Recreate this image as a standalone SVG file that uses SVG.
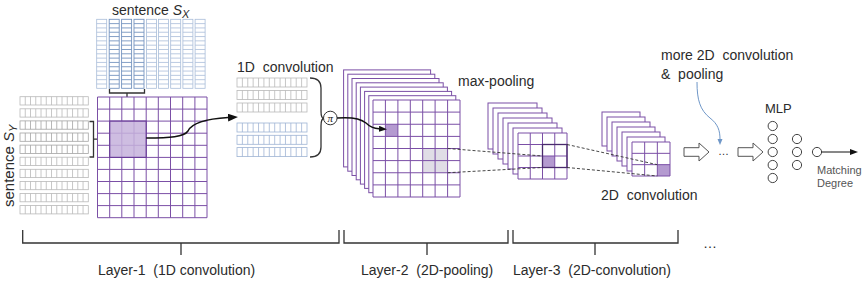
<svg xmlns="http://www.w3.org/2000/svg" xmlns:xlink="http://www.w3.org/1999/xlink" width="865" height="281" viewBox="0 0 865 281">
<style>
.t{font-family:"Liberation Sans",Arial,sans-serif;font-size:14px;fill:#2b2b2b}
.s11{font-size:11px}
.s13{font-size:13px}
.gray{fill:#555}
.grid{fill:none;stroke:#7b4fa6;stroke-width:1}
.frame{fill:#fff;stroke:#7b4fa6;stroke-width:1}
.hl{fill:#c6b1dc;fill-opacity:0.85;stroke:#6a3d99;stroke-width:1.2}
.br{fill:none;stroke:#333;stroke-width:1.3}
.dash{fill:none;stroke:#333;stroke-width:0.9;stroke-dasharray:3 2}
.colx{fill:#fff;stroke:#a9bdd9;stroke-width:0.8}
.colsel{fill:#fff;stroke:#7594c0;stroke-width:0.9}
.rowg{fill:#fff;stroke:#b9b9b9;stroke-width:0.8}
.rowgd{fill:#fff;stroke:#a4a4a4;stroke-width:0.8}
.rowb{fill:#fff;stroke:#9fb4d4;stroke-width:0.8}
.neuron{fill:#fff;stroke:#444;stroke-width:1}
.harrow{fill:#fff;stroke:#555;stroke-width:1}
</style>
<defs>
<g id="colX"><rect width="10" height="69"/><path d="M0,4.31h10M0,8.63h10M0,12.94h10M0,17.25h10M0,21.56h10M0,25.88h10M0,30.19h10M0,34.5h10M0,38.81h10M0,43.13h10M0,47.44h10M0,51.75h10M0,56.06h10M0,60.38h10M0,64.69h10"/></g>
<g id="rowY"><rect width="68.3" height="8.3"/><path d="M5.25,0v8.3M10.51,0v8.3M15.76,0v8.3M21.02,0v8.3M26.27,0v8.3M31.52,0v8.3M36.78,0v8.3M42.03,0v8.3M47.28,0v8.3M52.54,0v8.3M57.79,0v8.3M63.05,0v8.3"/></g>
<g id="row1D"><rect width="70" height="9"/><path d="M5.38,0v9M10.77,0v9M16.15,0v9M21.54,0v9M26.92,0v9M32.31,0v9M37.69,0v9M43.08,0v9M48.46,0v9M53.85,0v9M59.23,0v9M64.62,0v9"/></g>
<marker id="ah" markerUnits="userSpaceOnUse" markerWidth="10" markerHeight="8" refX="0" refY="4" orient="auto"><path d="M0,0L10,4L0,8z" fill="#111"/></marker>
<marker id="ahs" markerUnits="userSpaceOnUse" markerWidth="8" markerHeight="6" refX="0" refY="3" orient="auto"><path d="M0,0L8,3L0,6z" fill="#111"/></marker>
<marker id="ahb" markerUnits="userSpaceOnUse" markerWidth="6" markerHeight="6" refX="0" refY="3" orient="auto"><path d="M0,0.5L6,3L0,5.5z" fill="#6f97c8"/></marker>
</defs>

<g id="sentence-x">
<text class="t" x="112" y="15">sentence <tspan font-style="italic">S</tspan><tspan class="s11" dy="3" font-style="italic">X</tspan></text>
<use href="#colX" class="colx" x="96.7" y="19.3"/>
<use href="#colX" class="colsel" x="109.2" y="19.3"/>
<use href="#colX" class="colsel" x="121.6" y="19.3"/>
<use href="#colX" class="colsel" x="134" y="19.3"/>
<use href="#colX" class="colx" x="146.5" y="19.3"/>
<use href="#colX" class="colx" x="158.5" y="19.3"/>
<use href="#colX" class="colx" x="170.7" y="19.3"/>
<use href="#colX" class="colx" x="182.9" y="19.3"/>
<use href="#colX" class="colx" x="195.1" y="19.3"/>
<path class="br" d="M109.5,89V93H144.5V89M127,93V97.5"/>
</g>

<g id="sentence-y">
<text class="t" transform="translate(14,207) rotate(-90)" style="font-size:15px">sentence <tspan font-style="italic">S</tspan><tspan class="s11" dy="3" font-style="italic">Y</tspan></text>
<use href="#rowY" class="rowg" x="20" y="96.7"/>
<use href="#rowY" class="rowg" x="20" y="108.8"/>
<use href="#rowY" class="rowgd" x="20" y="120.9"/>
<use href="#rowY" class="rowgd" x="20" y="133"/>
<use href="#rowY" class="rowgd" x="20" y="145.1"/>
<use href="#rowY" class="rowg" x="20" y="157.2"/>
<use href="#rowY" class="rowg" x="20" y="169.3"/>
<use href="#rowY" class="rowg" x="20" y="181.4"/>
<use href="#rowY" class="rowg" x="20" y="193.5"/>
<use href="#rowY" class="rowg" x="20" y="205.6"/>
<path class="br" d="M89.5,121.5H93.5V157H89.5M93.5,139.2H97.5"/>
</g>

<g id="layer1-grid">
<rect x="97.5" y="97" width="109.5" height="120.7" fill="#fff"/>
<path class="grid" d="M97.5,97V217.7M109.7,97V217.7M121.8,97V217.7M134,97V217.7M146.2,97V217.7M158.3,97V217.7M170.5,97V217.7M182.7,97V217.7M194.9,97V217.7M207,97V217.7M97.5,97H207M97.5,109.1H207M97.5,121.1H207M97.5,133.2H207M97.5,145.3H207M97.5,157.4H207M97.5,169.4H207M97.5,181.5H207M97.5,193.6H207M97.5,205.6H207M97.5,217.7H207"/>
<rect class="hl" x="109.7" y="121.1" width="36.5" height="36.3"/>
</g>

<g id="conv1d">
<text class="t" x="237" y="72" xml:space="preserve">1D  convolution</text>
<use href="#row1D" class="rowg" x="237" y="78"/>
<use href="#row1D" class="rowg" x="237" y="90.5"/>
<use href="#row1D" class="rowg" x="237" y="103"/>
<use href="#row1D" class="rowb" x="237" y="123"/>
<use href="#row1D" class="rowb" x="237" y="135.3"/>
<use href="#row1D" class="rowb" x="237" y="147.6"/>
<path class="br" d="M310,78Q321,78 321,88V111Q321,118.5 324,118.5Q321,118.5 321,126V147Q321,157 310,157"/>
</g>

<g id="pool-op">
<circle cx="330.3" cy="118" r="6.8" fill="#fff" stroke="#333" stroke-width="1"/>
<text x="330.3" y="121.5" text-anchor="middle" font-family="'Liberation Serif',serif" font-style="italic" font-size="11" fill="#222">π</text>
</g>

<g id="layer2">
<rect class="frame" x="343.6" y="69.9" width="87" height="97"/>
<rect class="frame" x="347.8" y="74.2" width="87" height="97"/>
<rect class="frame" x="352" y="78.5" width="87" height="97"/>
<rect class="frame" x="356.2" y="82.8" width="87" height="97"/>
<rect class="frame" x="360.4" y="87.1" width="87" height="97"/>
<rect class="frame" x="364.6" y="91.4" width="87" height="97"/>
<rect class="frame" x="368.8" y="95.7" width="87" height="97"/>
<rect x="373" y="100" width="87" height="97" fill="#fff"/>
<rect x="422.7" y="148.5" width="24.9" height="24.25" fill="#e0dde6"/>
<rect x="385.4" y="124.25" width="12.5" height="12.15" fill="#b49ad0"/>
<path class="grid" d="M373,100V197M385.4,100V197M397.9,100V197M410.3,100V197M422.7,100V197M435.1,100V197M447.6,100V197M460,100V197M373,100H460M373,112.1H460M373,124.25H460M373,136.4H460M373,148.5H460M373,160.6H460M373,172.75H460M373,184.9H460M373,197H460"/>
<text class="t" x="458" y="86">max-pooling</text>
</g>

<g id="layer3">
<rect class="frame" x="488" y="103" width="49" height="46"/>
<rect class="frame" x="493" y="108" width="49" height="46"/>
<rect class="frame" x="498" y="113" width="49" height="46"/>
<rect class="frame" x="503" y="118" width="49" height="46"/>
<rect class="frame" x="508" y="123" width="49" height="46"/>
<rect class="frame" x="513" y="128" width="49" height="46"/>
<rect x="518" y="133" width="49" height="46" fill="#fff"/>
<rect x="542.5" y="156" width="12.25" height="11.5" fill="#b49ad0"/>
<path class="grid" d="M518,133V179M530.25,133V179M542.5,133V179M554.75,133V179M567,133V179M518,133H567M518,144.5H567M518,156H567M518,167.5H567M518,179H567"/>
<rect x="542.5" y="144.5" width="24.5" height="23" fill="none" stroke="#4a2a6e" stroke-width="1.3"/>
</g>

<g id="layer4">
<rect class="frame" x="602" y="112" width="38" height="34"/>
<rect class="frame" x="607" y="117" width="38" height="34"/>
<rect class="frame" x="612" y="122" width="38" height="34"/>
<rect class="frame" x="617" y="127" width="38" height="34"/>
<rect class="frame" x="622" y="132" width="38" height="34"/>
<rect class="frame" x="627" y="137" width="38" height="34"/>
<rect x="632" y="142" width="38" height="34" fill="#fff"/>
<rect x="657.33" y="164.67" width="12.67" height="11.33" fill="#b49ad0"/>
<path class="grid" d="M632,142V176M644.67,142V176M657.33,142V176M670,142V176M632,142H670M632,153.33H670M632,164.67H670M632,176H670"/>
<text class="t" x="601" y="200" xml:space="preserve">2D  convolution</text>
</g>

<g id="more-layers">
<text class="t" x="661" y="60" xml:space="preserve">more 2D  convolution</text>
<text class="t" x="661" y="79" xml:space="preserve">&amp;  pooling</text>
<polygon class="harrow" points="684,147.7 699,147.7 699,143 709,152 699,161 699,156.3 684,156.3"/>
<text class="t s11" x="718" y="155">…</text>
<polygon class="harrow" points="738,147.7 753,147.7 753,143 763,152 753,161 753,156.3 738,156.3"/>
</g>

<g id="mlp">
<text class="t s13" x="765" y="113">MLP</text>
<circle class="neuron" cx="772.7" cy="126" r="4.6"/>
<circle class="neuron" cx="772.7" cy="139" r="4.6"/>
<circle class="neuron" cx="772.7" cy="152" r="4.6"/>
<circle class="neuron" cx="772.7" cy="165" r="4.6"/>
<circle class="neuron" cx="772.7" cy="178" r="4.6"/>
<circle class="neuron" cx="797" cy="139" r="4.6"/>
<circle class="neuron" cx="797" cy="152" r="4.6"/>
<circle class="neuron" cx="797" cy="165" r="4.6"/>
</g>

<g id="output">
<circle class="neuron" cx="817" cy="152" r="4.6"/>
<text class="t s11 gray" x="817" y="174">Matching</text>
<text class="t s11 gray" x="817" y="187">Degree</text>
</g>

<g id="connectors">
<path d="M146.2,138C170,138 184,137 188,131C192,123 205,119 228,117.6" fill="none" stroke="#111" stroke-width="1.5" marker-end="url(#ah)"/>
<path d="M337.1,118C350,117 360,118 366,123C370,127 374,128.5 379,128.8" fill="none" stroke="#111" stroke-width="1.4" marker-end="url(#ahs)"/>
<path class="dash" d="M447.6,148.5L542.5,156M447.6,172.75L542.5,167.5M567,144.5L657.3,164.7M567,167.5L657.3,176"/>
<path d="M697,82C697,100 700,110 710,118C718,124 720,131 720,139" fill="none" stroke="#6f97c8" stroke-width="1" marker-end="url(#ahb)"/>
<path d="M821.6,152H850" fill="none" stroke="#111" stroke-width="1" marker-end="url(#ahs)"/>
</g>

<g id="layer-brackets">
<path class="br" d="M22.7,230V243H339V230M181,243V255"/>
<path class="br" d="M344,230V243H508V230M427,243V255"/>
<path class="br" d="M513,230V243H678V230M595,243V255"/>
<text class="t" x="703" y="248">…</text>
<text class="t" x="98" y="275" xml:space="preserve">Layer-1  (1D convolution)</text>
<text class="t" x="361" y="275" xml:space="preserve">Layer-2  (2D-pooling)</text>
<text class="t" x="513" y="275" xml:space="preserve">Layer-3  (2D-convolution)</text>
</g>
</svg>
